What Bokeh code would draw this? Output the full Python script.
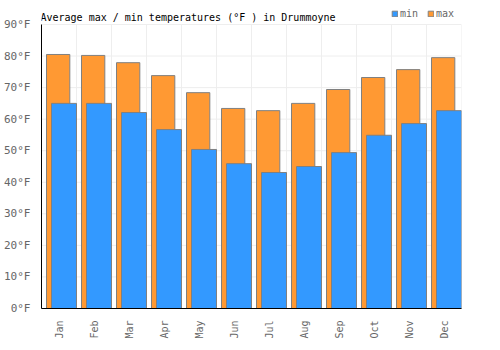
import math
from bokeh.plotting import figure
from bokeh.models import (Range1d, FixedTicker, PrintfTickFormatter, Legend, LegendItem, Label)
from bokeh.embed import file_html
from bokeh.resources import INLINE
import numpy as np

months = ["Jan", "Feb", "Mar", "Apr", "May", "Jun", "Jul", "Aug", "Sep", "Oct", "Nov", "Dec"]
temp_max = [80.5, 80.2, 77.9, 73.8, 68.4, 63.4, 62.7, 65.0, 69.4, 73.2, 75.7, 79.5]
temp_min = [65.0, 65.0, 62.1, 56.7, 50.4, 45.9, 43.1, 45.0, 49.4, 54.9, 58.6, 62.7]
y_ticks = [0, 10, 20, 30, 40, 50, 60, 70, 80, 90]
title_text = "Average max / min temperatures (°F ) in Drummoyne"

FONT = "DejaVu Sans Mono"
Y_TOP = 90
Y_END = 90 * 308 / 284.0  # extend frame to canvas top so title/legend fit

p = figure(width=500, height=350, output_backend="svg", toolbar_location=None,
           x_range=Range1d(0, 12), y_range=Range1d(0, Y_END),
           min_border_left=41, min_border_right=39, min_border_top=0, min_border_bottom=42)
p.outline_line_color = None
p.background_fill_color = "white"
p.grid.visible = False

n = len(months)
idx = np.arange(n)

# grid lines (limited to 0..90)
gx = np.arange(n + 1)
p.segment(x0=gx, y0=0, x1=gx, y1=Y_TOP, line_color="#eeeeee", line_width=1)
p.segment(x0=0, y0=y_ticks, x1=n, y1=y_ticks, line_color="#eeeeee", line_width=1)

r_max = p.vbar(x=idx + 0.476, top=temp_max, width=0.666, bottom=0,
               fill_color="#ff9933", line_color="#808080", line_width=1)
r_min = p.vbar(x=idx + 0.643, top=temp_min, width=0.714, bottom=0,
               fill_color="#3399ff", line_color="#808080", line_width=1)

# axes
p.yaxis.ticker = FixedTicker(ticks=y_ticks)
p.yaxis.formatter = PrintfTickFormatter(format="%d°F")
p.yaxis.bounds = (0, Y_TOP)
p.xaxis.ticker = FixedTicker(ticks=[i + 0.5 for i in range(n)])
p.xaxis.major_label_overrides = {i + 0.5: m for i, m in enumerate(months)}
p.xaxis.major_label_orientation = math.pi / 2
for ax in (p.xaxis, p.yaxis):
    ax.major_tick_line_color = None
    ax.minor_tick_line_color = None
    ax.axis_line_color = "black"
    ax.axis_line_width = 1
    ax.major_label_text_font = FONT
    ax.major_label_text_color = "#666666"
p.yaxis.major_label_text_font_size = "11px"
p.xaxis.major_label_text_font_size = "10px"
p.yaxis.major_label_standoff = 5
p.xaxis.major_label_standoff = 6

title = Label(x=-1, y=291, x_units="screen", y_units="screen", text=title_text,
              text_font=FONT, text_font_size="10px", text_color="black",
              text_baseline="alphabetic", text_align="left")
p.add_layout(title)

legend = Legend(items=[LegendItem(label="min", renderers=[r_min]),
                       LegendItem(label="max", renderers=[r_max])],
                location=(350, 289), orientation="horizontal",
                glyph_width=7, glyph_height=7, label_standoff=2, spacing=7,
                padding=0, margin=0, border_line_color=None, background_fill_alpha=0,
                label_text_font=FONT, label_text_font_size="10px", label_text_color="#666666")
p.add_layout(legend)

open("out.html", "w").write(file_html(p, INLINE))
